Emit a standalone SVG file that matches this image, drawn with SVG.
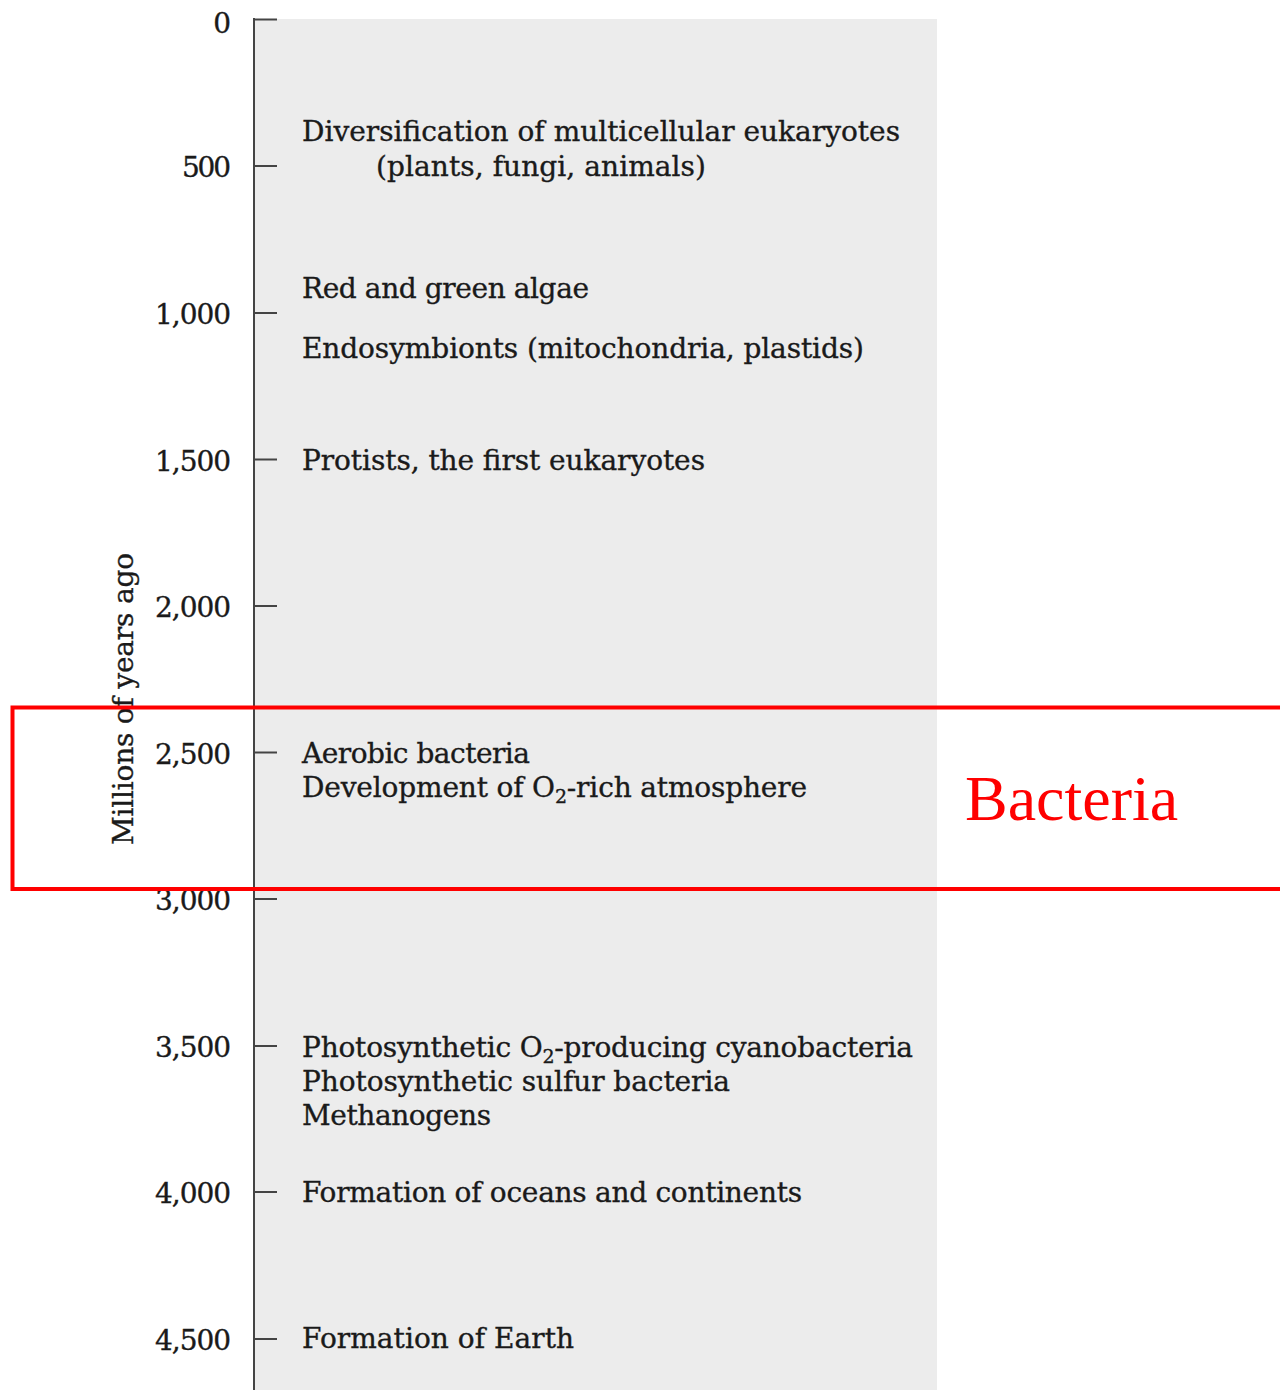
<svg xmlns="http://www.w3.org/2000/svg" width="1280" height="1390" viewBox="0 0 1280 1390">
  <style>
    .ev { font-family: "DejaVu Serif", "Liberation Serif", serif; font-size: 28px; fill: #1a1a1a; stroke: #1a1a1a; stroke-width: 0.35px; }
    .num { font-family: "DejaVu Serif", "Liberation Serif", serif; font-size: 28px; fill: #1a1a1a; stroke: #1a1a1a; stroke-width: 0.35px; text-anchor: end; }
    .sub { font-size: 19px; }
    .tick { stroke: #444; stroke-width: 2; }
    .hl { fill: none; stroke: #ff0000; stroke-width: 4; }
    .hltext { font-family: "Liberation Serif", "Times New Roman", serif; font-size: 64px; fill: #ff0000; }
  </style>
  <rect x="0" y="0" width="1280" height="1390" fill="#ffffff"/>
  <rect id="panel" x="255" y="19" width="682" height="1371" fill="#ececec"/>

  <g id="axis">
    <line class="tick" x1="254" y1="18" x2="254" y2="1390"/>
    <line class="tick" x1="253" y1="19.5" x2="277" y2="19.5"/>
    <line class="tick" x1="253" y1="166" x2="277" y2="166"/>
    <line class="tick" x1="253" y1="313" x2="277" y2="313"/>
    <line class="tick" x1="253" y1="459.5" x2="277" y2="459.5"/>
    <line class="tick" x1="253" y1="606" x2="277" y2="606"/>
    <line class="tick" x1="253" y1="752.5" x2="277" y2="752.5"/>
    <line class="tick" x1="253" y1="899" x2="277" y2="899"/>
    <line class="tick" x1="253" y1="1046" x2="277" y2="1046"/>
    <line class="tick" x1="253" y1="1192" x2="277" y2="1192"/>
    <line class="tick" x1="253" y1="1339" x2="277" y2="1339"/>
  </g>

  <g id="axis-labels">
    <text class="num" x="231" y="33">0</text>
    <text class="num" x="231" y="177" textLength="49">500</text>
    <text class="num" x="231" y="324" textLength="76">1,000</text>
    <text class="num" x="231" y="471" textLength="76">1,500</text>
    <text class="num" x="231" y="617" textLength="76">2,000</text>
    <text class="num" x="231" y="764" textLength="76">2,500</text>
    <text class="num" x="231" y="910" textLength="76">3,000</text>
    <text class="num" x="231" y="1057" textLength="76">3,500</text>
    <text class="num" x="231" y="1203" textLength="76">4,000</text>
    <text class="num" x="231" y="1350" textLength="76">4,500</text>
    <text id="axis-title" class="ev" x="0" y="0" text-anchor="middle" textLength="292" transform="translate(133,699) rotate(-90)">Millions of years ago</text>
  </g>

  <g id="ev-multicellular">
    <text class="ev" x="302" y="141" textLength="598">Diversification of multicellular eukaryotes</text>
    <text class="ev" x="376" y="176" textLength="330">(plants, fungi, animals)</text>
  </g>
  <g id="ev-algae">
    <text class="ev" x="302" y="298" textLength="287">Red and green algae</text>
  </g>
  <g id="ev-endosymbionts">
    <text class="ev" x="302" y="358" textLength="562">Endosymbionts (mitochondria, plastids)</text>
  </g>
  <g id="ev-protists">
    <text class="ev" x="302" y="470" textLength="403">Protists, the first eukaryotes</text>
  </g>
  <g id="ev-aerobic">
    <text class="ev" x="302" y="763" textLength="228">Aerobic bacteria</text>
    <text class="ev" x="302" y="797" textLength="505">Development of O<tspan class="sub" dy="6">2</tspan><tspan dy="-6">-rich atmosphere</tspan></text>
  </g>
  <g id="ev-cyanobacteria">
    <text class="ev" x="302" y="1057" textLength="611">Photosynthetic O<tspan class="sub" dy="6">2</tspan><tspan dy="-6">-producing cyanobacteria</tspan></text>
    <text class="ev" x="302" y="1091" textLength="428">Photosynthetic sulfur bacteria</text>
    <text class="ev" x="302" y="1125" textLength="189">Methanogens</text>
  </g>
  <g id="ev-oceans">
    <text class="ev" x="302" y="1202" textLength="500">Formation of oceans and continents</text>
  </g>
  <g id="ev-earth">
    <text class="ev" x="302" y="1348" textLength="272">Formation of Earth</text>
  </g>

  <g id="highlight-bacteria">
    <rect class="hl" x="12.5" y="707.5" width="1290" height="181.5"/>
    <text class="hltext" x="965" y="820">Bacteria</text>
  </g>
</svg>
